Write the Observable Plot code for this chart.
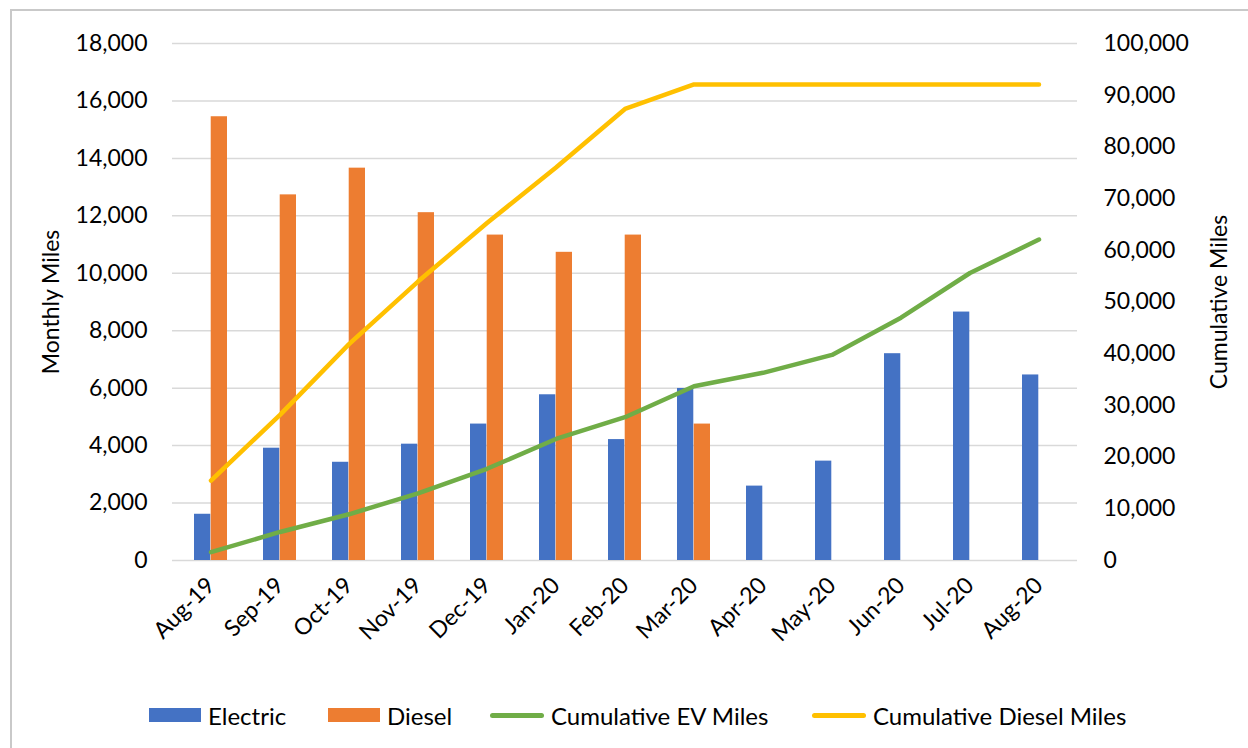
<!DOCTYPE html>
<html>
<head>
<meta charset="utf-8">
<script src="https://cdn.jsdelivr.net/npm/d3@7"></script>
<script src="https://cdn.jsdelivr.net/npm/@observablehq/plot@0.6"></script>
<style>
  html, body { margin: 0; padding: 0; background: #fff; }
  #chart { position: relative; width: 1248px; height: 748px; overflow: hidden; font-family: Lato, "Open Sans", sans-serif; color: #000; }
  #frame { position: absolute; left: 10px; top: 9px; width: 1260px; height: 760px; border: 2px solid #c9c9c9; box-sizing: border-box; }
  #plot { position: absolute; left: 0; top: 0; }
  #legend { position: absolute; top: 700px; left: 0; width: 1248px; height: 30px; }
  .item { position: absolute; top: 0; display: flex; align-items: center; height: 30px; font-size: 24px; white-space: nowrap; }
  .sw { display: inline-block; margin-right: 7px; }
</style>
</head>
<body>
<div id="chart">
  <div id="frame"></div>
  <div id="plot"></div>
  <div id="legend"></div>
</div>
<script>
// Monthly miles by fuel type and the running totals
const months = ["Aug-19", "Sep-19", "Oct-19", "Nov-19", "Dec-19", "Jan-20", "Feb-20",
                "Mar-20", "Apr-20", "May-20", "Jun-20", "Jul-20", "Aug-20"];
const electric = [1610, 3910, 3420, 4050, 4750, 5770, 4210, 5990, 2590, 3460, 7200, 8650, 6460];
const diesel = [15450, 12730, 13660, 12110, 11330, 10730, 11330, 4750, null, null, null, null, null];
const cumulativeEV = [1610, 5520, 8940, 12990, 17740, 23510, 27720, 33710, 36300, 39760, 46960, 55610, 62070];
const cumulativeDiesel = [15450, 28180, 41840, 53950, 65280, 76010, 87340, 92090, 92090, 92090, 92090, 92090, 92090];
const leftTicks = [0, 2000, 4000, 6000, 8000, 10000, 12000, 14000, 16000, 18000];
const rightTicks = [0, 10000, 20000, 30000, 40000, 50000, 60000, 70000, 80000, 90000, 100000];

const colors = {electric: "#4472C4", diesel: "#ED7D31", ev: "#70AD47", dieselCum: "#FFC000"};

// Right axis (0–100,000) shares the left scale (0–18,000)
const K = 18000 / 100000;

const rows = months.map((m, i) => ({
  month: m,
  electric: electric[i],
  diesel: diesel[i],
  cumEV: cumulativeEV[i],
  cumDiesel: cumulativeDiesel[i]
}));

const W = 1248, H = 672;
const margin = {top: 43, right: 171, bottom: 112, left: 172};
const xOpts = {type: "band", domain: months, paddingInner: 0.52, paddingOuter: 0.26};
const xScale = Plot.scale({x: {...xOpts, range: [margin.left, W - margin.right]}});
const half = xScale.bandwidth / 2;
const fmt = d3.format(",");

const plot = Plot.plot({
  width: W,
  height: H,
  marginTop: margin.top,
  marginRight: margin.right,
  marginBottom: margin.bottom,
  marginLeft: margin.left,
  style: {fontFamily: "Lato, 'Open Sans', sans-serif", fontSize: "23px", color: "#000", background: "transparent"},
  x: {...xOpts, axis: null},
  y: {domain: [0, 18000], axis: null},
  marks: [
    Plot.gridY(leftTicks, {stroke: "#d9d9d9", strokeOpacity: 1, strokeWidth: 1.5}),
    Plot.barY(rows, {x: "month", y: "electric", fill: colors.electric, insetRight: half}),
    Plot.barY(rows.filter(d => d.diesel != null), {x: "month", y: "diesel", fill: colors.diesel, insetLeft: half}),
    Plot.lineY(rows, {x: "month", y: d => d.cumDiesel * K, stroke: colors.dieselCum, strokeWidth: 4.5, strokeLinecap: "round", strokeLinejoin: "round"}),
    Plot.lineY(rows, {x: "month", y: d => d.cumEV * K, stroke: colors.ev, strokeWidth: 4.5, strokeLinecap: "round", strokeLinejoin: "round"}),
    Plot.axisY(leftTicks, {anchor: "left", tickSize: 0, tickPadding: 25, tickFormat: fmt, label: null, fontSize: 23}),
    Plot.axisY(rightTicks.map(v => v * K), {anchor: "right", tickSize: 0, tickPadding: 26, tickFormat: d => fmt(Math.round(d / K)), label: null, fontSize: 23}),
    Plot.axisX(months, {anchor: "bottom", tickSize: 0, tickPadding: 21, tickRotate: -45, label: null, fontSize: 23}),
    Plot.text(["Monthly Miles"], {frameAnchor: "left", textAnchor: "middle", rotate: -90, dx: -121, fontSize: 23}),
    Plot.text(["Cumulative Miles"], {frameAnchor: "right", textAnchor: "middle", rotate: -90, dx: 142, fontSize: 23})
  ]
});
document.getElementById("plot").appendChild(plot);

// Legend below the chart
const legendItems = [
  {label: "Electric", color: colors.electric, kind: "box", left: 149},
  {label: "Diesel", color: colors.diesel, kind: "box", left: 328},
  {label: "Cumulative EV Miles", color: colors.ev, kind: "line", left: 490},
  {label: "Cumulative Diesel Miles", color: colors.dieselCum, kind: "line", left: 812}
];
const legend = document.getElementById("legend");
for (const it of legendItems) {
  const item = document.createElement("div");
  item.className = "item";
  item.style.left = it.left + "px";
  const sw = document.createElement("span");
  sw.className = "sw";
  sw.style.background = it.color;
  sw.style.width = (it.kind === "box" ? 52 : 54) + "px";
  sw.style.height = (it.kind === "box" ? 14 : 5) + "px";
  if (it.kind === "line") sw.style.borderRadius = "3px";
  item.appendChild(sw);
  item.appendChild(document.createTextNode(it.label));
  legend.appendChild(item);
}
</script>
</body>
</html>
